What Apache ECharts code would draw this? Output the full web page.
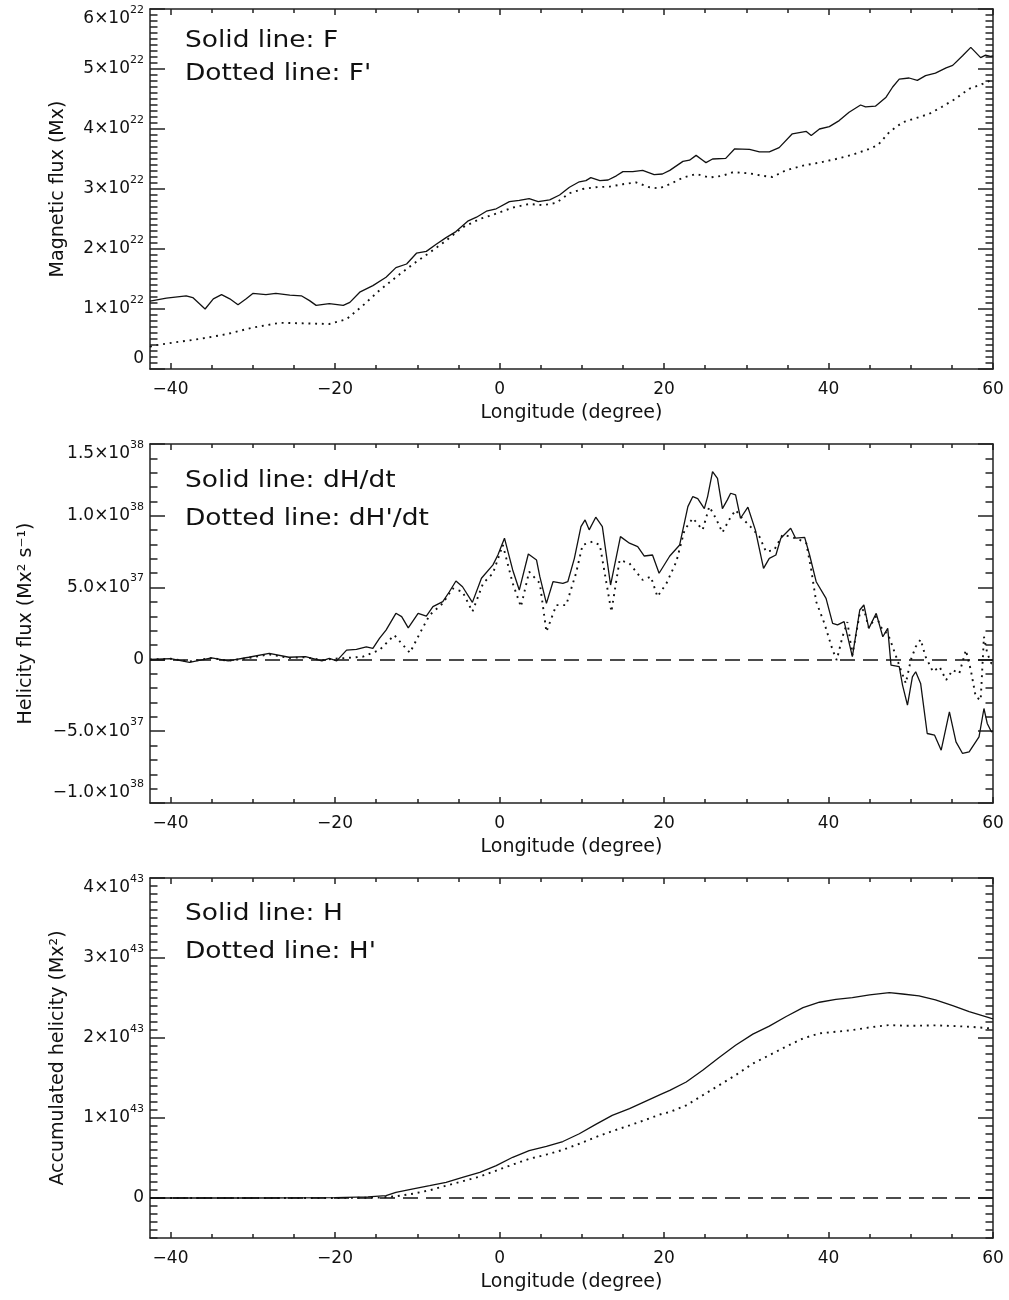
<!DOCTYPE html>
<html>
<head>
<meta charset="utf-8">
<script src="https://cdn.jsdelivr.net/npm/echarts@6/dist/echarts.min.js"></script>
<style>
  html, body { margin: 0; padding: 0; background: #ffffff; }
  #main { width: 1009px; height: 1300px; }
</style>
</head>
<body>
<div id="main"></div>
<script>
// ---- longitude axis ----
const LON_MIN = -42.5;
const LON_MAX = 60;
const lonTicks = [-40, -20, 0, 20, 40, 60];
const lonMinorTicks = [-35, -30, -25, -15, -10, -5, 5, 10, 15, 25, 30, 35, 45, 50, 55];

// ---- panel 1: magnetic flux, values in units of 1e22 Mx ----
const FLUX_UNIT = 1e22;
const fluxTicks = [0, 1, 2, 3, 4, 5, 6];
const fluxSolid = [[-42.5,1.13],[-42.3,1.14],[-40.5,1.18],[-38.1,1.22],[-37.3,1.19],[-35.8,1.00],[-34.8,1.17],[-33.8,1.24],[-32.8,1.17],[-31.8,1.07],[-30.8,1.17],[-30.0,1.26],[-28.4,1.24],[-27.2,1.26],[-25.5,1.23],[-24.1,1.22],[-23.1,1.14],[-22.3,1.06],[-20.7,1.09],[-19.0,1.06],[-18.2,1.11],[-17.0,1.28],[-15.4,1.39],[-13.8,1.53],[-12.6,1.69],[-11.3,1.75],[-10.1,1.93],[-8.9,1.96],[-7.7,2.08],[-6.5,2.19],[-5.3,2.29],[-3.8,2.47],[-2.8,2.53],[-1.6,2.63],[-0.4,2.67],[1.2,2.79],[2.4,2.81],[3.6,2.84],[4.7,2.79],[6.1,2.82],[7.3,2.90],[8.5,3.03],[9.7,3.12],[10.5,3.14],[11.1,3.19],[12.2,3.14],[13.2,3.15],[14.2,3.22],[15.0,3.29],[16.2,3.29],[17.4,3.31],[18.8,3.24],[19.8,3.25],[20.7,3.31],[22.3,3.46],[23.1,3.48],[23.9,3.56],[24.7,3.48],[25.1,3.44],[25.9,3.50],[27.5,3.51],[28.6,3.67],[30.4,3.66],[31.6,3.62],[32.8,3.62],[34.0,3.69],[35.6,3.92],[37.3,3.96],[37.9,3.89],[38.9,4.00],[40.1,4.04],[41.3,4.14],[42.5,4.28],[43.9,4.40],[44.5,4.37],[45.7,4.38],[47.0,4.53],[47.8,4.70],[48.6,4.83],[49.8,4.85],[50.8,4.81],[51.8,4.89],[53.0,4.93],[54.3,5.02],[55.1,5.06],[56.3,5.22],[57.3,5.36],[58.5,5.19],[59.1,5.23],[59.7,5.21],[60.0,5.22]];
const fluxDotted = [[-42.5,0.37],[-42.1,0.39],[-39.7,0.44],[-36.5,0.50],[-33.2,0.58],[-30.0,0.69],[-26.7,0.77],[-23.5,0.76],[-20.7,0.75],[-18.6,0.83],[-16.6,1.06],[-14.6,1.31],[-12.6,1.53],[-10.5,1.75],[-8.5,1.94],[-6.5,2.14],[-4.5,2.36],[-2.4,2.50],[-0.4,2.59],[1.6,2.69],[3.6,2.75],[5.3,2.73],[6.9,2.77],[8.5,2.93],[10.1,3.00],[11.7,3.03],[13.4,3.04],[15.0,3.08],[16.6,3.11],[18.2,3.03],[19.4,3.01],[20.7,3.08],[22.3,3.19],[23.9,3.25],[25.5,3.19],[27.1,3.22],[28.4,3.28],[30.4,3.26],[32.0,3.22],[33.2,3.20],[34.8,3.31],[36.9,3.39],[38.9,3.44],[40.9,3.50],[42.9,3.57],[45.0,3.67],[46.0,3.73],[47.4,3.95],[49.0,4.11],[50.6,4.18],[52.2,4.25],[53.8,4.37],[55.4,4.50],[57.1,4.67],[58.7,4.75],[60.0,4.83]];

// ---- panel 2: helicity flux, values in units of 1e37 Mx^2 s^-1 ----
const HF_UNIT = 1e37;
const hfTicks = [-10, -5, 0, 5, 10, 15];
const hfSolid = [[-42.5,0.0],[-40.0,0.05],[-37.7,-0.2],[-35.0,0.1],[-33.0,-0.1],[-30.5,0.15],[-28.0,0.42],[-25.6,0.15],[-23.6,0.2],[-21.6,-0.1],[-20.7,0.07],[-19.8,-0.1],[-18.6,0.65],[-17.4,0.70],[-16.2,0.88],[-15.4,0.77],[-14.6,1.46],[-13.8,2.04],[-12.6,3.21],[-11.9,2.98],[-11.1,2.20],[-9.9,3.21],[-8.9,3.02],[-8.1,3.67],[-6.9,4.02],[-6.1,4.71],[-5.3,5.46],[-4.5,5.06],[-3.3,3.97],[-2.2,5.65],[-0.8,6.58],[-0.2,7.27],[0.6,8.44],[1.6,6.23],[2.4,4.83],[3.5,7.34],[4.5,6.92],[4.9,5.76],[5.7,3.90],[6.5,5.41],[7.7,5.30],[8.3,5.41],[9.1,7.04],[9.9,9.25],[10.4,9.71],[10.9,9.02],[11.7,9.90],[12.5,9.25],[13.5,5.18],[14.7,8.55],[15.8,8.09],[16.8,7.86],[17.6,7.20],[18.6,7.27],[19.4,6.00],[20.7,7.20],[21.9,7.97],[22.9,10.64],[23.5,11.34],[24.1,11.20],[24.9,10.50],[25.3,11.34],[25.9,13.08],[26.5,12.60],[27.1,10.50],[27.7,11.11],[28.1,11.57],[28.7,11.45],[29.3,9.83],[30.2,10.60],[31.1,9.02],[32.1,6.34],[32.8,7.04],[33.6,7.27],[34.2,8.44],[35.4,9.13],[36.0,8.44],[37.1,8.50],[37.7,7.27],[38.5,5.41],[39.7,4.25],[40.5,2.51],[41.1,2.40],[41.9,2.63],[42.9,0.19],[43.8,3.44],[44.3,3.79],[44.9,2.16],[45.8,3.21],[46.6,1.58],[47.2,2.16],[47.6,-0.40],[48.6,-0.51],[49.0,-1.79],[49.6,-3.19],[50.2,-1.21],[50.6,-0.86],[51.2,-1.67],[52.0,-5.16],[52.9,-5.28],[53.7,-6.32],[54.7,-3.65],[55.5,-5.74],[56.3,-6.55],[57.1,-6.44],[58.3,-5.40],[58.9,-3.42],[59.3,-4.46],[59.8,-5.04],[60.0,-5.00]];
const hfDotted = [[-42.5,0.0],[-40.0,0.05],[-37.7,-0.15],[-35.0,0.1],[-33.0,-0.1],[-30.5,0.1],[-28.0,0.35],[-25.6,0.1],[-23.6,0.15],[-21.6,-0.05],[-20.0,0.05],[-18.6,0.1],[-16.6,0.19],[-14.6,0.65],[-12.8,1.69],[-10.9,0.46],[-9.7,1.81],[-8.5,3.09],[-6.9,3.90],[-5.7,4.95],[-4.5,4.71],[-3.3,3.32],[-2.0,5.30],[-0.8,6.00],[0.4,7.97],[1.6,5.30],[2.6,3.67],[3.6,6.11],[4.9,5.30],[5.7,1.92],[6.9,3.78],[8.1,3.78],[9.3,6.00],[10.1,7.97],[11.3,8.20],[12.2,7.97],[13.6,3.32],[14.6,6.92],[15.8,6.69],[17.4,5.53],[18.4,5.76],[19.2,4.37],[20.3,5.30],[21.5,6.81],[22.5,9.02],[23.5,9.83],[24.7,9.02],[25.5,10.64],[26.3,9.83],[27.1,8.83],[27.9,9.71],[28.7,10.40],[29.5,9.83],[30.5,9.25],[31.6,8.55],[32.4,7.50],[33.4,7.62],[34.4,8.67],[35.4,8.55],[36.5,8.32],[37.3,8.09],[37.9,6.23],[38.5,4.02],[39.5,2.51],[40.5,0.65],[41.0,-0.05],[41.7,1.58],[42.3,2.60],[42.9,0.30],[43.8,3.20],[44.3,3.50],[44.9,2.20],[45.8,3.00],[46.6,2.00],[47.2,1.80],[47.8,0.88],[48.8,-0.74],[49.4,-1.67],[50.0,-0.05],[50.6,0.88],[51.2,1.39],[51.8,0.19],[52.7,-0.86],[53.5,-0.51],[54.3,-1.44],[55.1,-0.74],[55.9,-0.98],[56.7,0.65],[57.3,-0.74],[57.9,-2.60],[58.5,-2.84],[58.9,1.58],[59.3,0.42],[59.8,-0.28],[60.0,-0.30]];

// ---- panel 3: accumulated helicity, values in units of 1e42 Mx^2 ----
const AH_UNIT = 1e42;
const ahTicks = [0, 10, 20, 30, 40];
const ahSolid = [[-42.5,0.0],[-30.0,0.0],[-20.0,0.05],[-16.0,0.15],[-13.8,0.29],[-12.6,0.70],[-10.5,1.13],[-8.5,1.54],[-6.5,1.96],[-4.5,2.58],[-2.4,3.21],[-0.4,4.05],[1.6,5.09],[3.6,5.93],[5.7,6.44],[7.7,7.06],[9.7,8.03],[11.7,9.20],[13.7,10.33],[15.8,11.17],[17.8,12.12],[19.8,13.05],[20.7,13.46],[22.7,14.50],[24.7,15.97],[26.7,17.57],[28.7,19.10],[30.8,20.49],[32.8,21.49],[34.8,22.66],[36.9,23.79],[38.9,24.47],[40.9,24.84],[42.9,25.04],[45.0,25.38],[47.4,25.67],[49.0,25.50],[51.0,25.26],[53.0,24.76],[55.1,24.04],[57.1,23.29],[59.8,22.46],[60.0,22.40]];
const ahDotted = [[-42.5,0.0],[-20.0,0.0],[-14.6,0.05],[-12.6,0.21],[-10.5,0.54],[-8.5,0.96],[-6.5,1.54],[-4.5,2.09],[-2.4,2.68],[-0.4,3.43],[1.6,4.18],[3.6,4.89],[5.7,5.43],[7.7,6.02],[9.7,6.78],[11.7,7.61],[13.7,8.36],[15.8,9.07],[17.8,9.79],[19.8,10.54],[20.7,10.74],[22.7,11.58],[24.7,12.84],[26.7,14.09],[28.7,15.35],[30.8,16.81],[32.8,17.85],[34.8,18.90],[36.9,19.95],[38.9,20.58],[40.9,20.78],[42.9,20.99],[45.0,21.33],[47.4,21.62],[49.0,21.54],[51.0,21.54],[53.0,21.58],[55.1,21.50],[57.1,21.41],[59.8,21.20],[60.0,21.18]];

// ---- styling ----
const FONT = 'DejaVu Sans';
const INK = '#111111';
const FRAME = { color: '#222222', width: 1.5 };
const GRID_LEFT = 150;
const GRID_WIDTH = 843;

const panels = [
  { top: 9, height: 360, unit: FLUX_UNIT, ticks: fluxTicks, minorStep: 0.1, digits: 0,
    yName: 'Magnetic flux (Mx)', nameGap: 82, minAlign: 'bottom',
    solid: fluxSolid, dotted: fluxDotted, zeroLine: false,
    notes: [['Solid line: F', 41], ["Dotted line: F'", 74]] },
  { top: 444, height: 359, unit: HF_UNIT, ticks: hfTicks, minorStep: 1, digits: 1,
    yName: 'Helicity flux (Mx\u00b2 s\u207b\u00b9)', nameGap: 114, minAlign: 'bottom',
    solid: hfSolid, dotted: hfDotted, zeroLine: true,
    notes: [['Solid line: dH/dt', 481], ["Dotted line: dH'/dt", 519]] },
  { top: 878, height: 360, unit: AH_UNIT, ticks: ahTicks, minorStep: 1, digits: 0,
    yName: 'Accumulated helicity (Mx\u00b2)', nameGap: 82, minAlign: null,
    solid: ahSolid, dotted: ahDotted, zeroLine: true, yMinExtra: -5,
    notes: [['Solid line: H', 914], ["Dotted line: H'", 952]] }
];

// "m×10^e" tick labels: mantissa part and a raised exponent
function sciFormatter(unit, digits) {
  return function (v) {
    if (Math.abs(v) < unit * 1e-6) return '{m|0}';
    const e = Math.floor(Math.log10(Math.abs(v)) + 1e-9);
    const m = v / Math.pow(10, e);
    const txt = (m < 0 ? '\u2212' : '') + Math.abs(m).toFixed(digits) + '\u00d710';
    return '{m|' + txt + '}{s|' + e + '}';
  };
}

const RICH = {
  m: { fontFamily: FONT, fontSize: 17, color: INK, lineHeight: 20 },
  s: { fontFamily: FONT, fontSize: 11, color: INK, lineHeight: 2, height: 2, verticalAlign: 'top' }
};

function minorValues(lo, hi, step, majorEvery) {
  const out = [];
  const k0 = Math.round(lo / step), k1 = Math.round(hi / step);
  for (let k = k0; k <= k1; k++) {
    if (k % majorEvery !== 0) out.push(k * step);
  }
  return out;
}

const grids = [], xAxes = [], yAxes = [], series = [], graphics = [];

panels.forEach(function (p, g) {
  const u = p.unit;
  const majors = p.ticks.map(function (t) { return t * u; });
  const majorStep = p.ticks[1] - p.ticks[0];
  const yMin = (p.yMinExtra !== undefined ? p.yMinExtra : p.ticks[0]) * u;
  const yMax = p.ticks[p.ticks.length - 1] * u;
  const minors = minorValues(yMin / u, yMax / u, p.minorStep, Math.round(majorStep / p.minorStep))
    .map(function (t) { return t * u; });

  grids.push({ left: GRID_LEFT, top: p.top, width: GRID_WIDTH, height: p.height, containLabel: false });

  const xBase = { type: 'value', gridIndex: g, min: LON_MIN, max: LON_MAX, splitLine: { show: false } };
  // bottom axis with labels
  xAxes.push(Object.assign({}, xBase, {
    position: 'bottom',
    name: 'Longitude (degree)', nameLocation: 'middle', nameGap: 35,
    nameTextStyle: { fontFamily: FONT, fontSize: 19, color: INK },
    axisLine: { show: true, onZero: false, lineStyle: FRAME },
    axisTick: { show: true, inside: true, length: 6, customValues: lonTicks, lineStyle: FRAME },
    axisLabel: { show: true, margin: 12, customValues: lonTicks, fontFamily: FONT, fontSize: 17, color: INK,
      formatter: function (v) { return v < 0 ? '\u2212' + (-v) : String(v); } }
  }));
  // top frame
  xAxes.push(Object.assign({}, xBase, {
    position: 'top',
    axisLine: { show: true, onZero: false, lineStyle: FRAME },
    axisTick: { show: true, inside: true, length: 6, customValues: lonTicks, lineStyle: FRAME },
    axisLabel: { show: false }
  }));
  // minor ticks bottom / top
  ['bottom', 'top'].forEach(function (pos) {
    xAxes.push(Object.assign({}, xBase, {
      position: pos,
      axisLine: { show: false, onZero: false },
      axisTick: { show: true, inside: true, length: 4, customValues: lonMinorTicks, lineStyle: FRAME },
      axisLabel: { show: false }
    }));
  });

  const yBase = { type: 'value', gridIndex: g, min: yMin, max: yMax, splitLine: { show: false } };
  yAxes.push(Object.assign({}, yBase, {
    position: 'left',
    name: p.yName, nameLocation: 'middle', nameGap: p.nameGap,
    nameTextStyle: { fontFamily: FONT, fontSize: 19, color: INK },
    axisLine: { show: true, onZero: false, lineStyle: FRAME },
    axisTick: { show: true, inside: true, length: 15, customValues: majors, lineStyle: FRAME },
    axisLabel: { show: true, margin: 6, customValues: majors, formatter: sciFormatter(u, p.digits), rich: RICH,
      verticalAlignMaxLabel: 'top', verticalAlignMinLabel: p.minAlign || undefined }
  }));
  yAxes.push(Object.assign({}, yBase, {
    position: 'right',
    axisLine: { show: true, onZero: false, lineStyle: FRAME },
    axisTick: { show: true, inside: true, length: 15, customValues: majors, lineStyle: FRAME },
    axisLabel: { show: false }
  }));
  ['left', 'right'].forEach(function (pos) {
    yAxes.push(Object.assign({}, yBase, {
      position: pos,
      axisLine: { show: false, onZero: false },
      axisTick: { show: true, inside: true, length: 7.5, customValues: minors, lineStyle: FRAME },
      axisLabel: { show: false }
    }));
  });

  const toData = function (arr) { return arr.map(function (d) { return [d[0], d[1] * u]; }); };

  const solidSeries = {
    type: 'line', xAxisIndex: 4 * g, yAxisIndex: 4 * g,
    data: toData(p.solid), showSymbol: false, symbol: 'none', silent: true,
    lineStyle: { color: INK, width: 1.3 }, z: 4, clip: true
  };
  if (p.zeroLine) {
    solidSeries.markLine = {
      silent: true, symbol: ['none', 'none'], label: { show: false },
      lineStyle: { color: INK, width: 1.5, type: [15, 8] },
      emphasis: { disabled: true },
      data: [{ yAxis: 0 }]
    };
  }
  series.push(solidSeries);
  series.push({
    type: 'line', xAxisIndex: 4 * g, yAxisIndex: 4 * g,
    data: toData(p.dotted), showSymbol: false, symbol: 'none', silent: true,
    lineStyle: { color: INK, width: 1.9, type: [1.9, 4.8] }, z: 3, clip: true
  });

  p.notes.forEach(function (n) {
    graphics.push({
      type: 'text', x: 185, y: n[1], scaleX: 1.15, silent: true,
      style: { text: n[0], fontFamily: FONT, fontSize: 23, fill: INK, verticalAlign: 'middle', align: 'left' }
    });
  });
});

const chart = echarts.init(document.getElementById('main'), null, { renderer: 'canvas' });
chart.setOption({
  animation: false,
  backgroundColor: '#ffffff',
  grid: grids,
  xAxis: xAxes,
  yAxis: yAxes,
  series: series,
  graphic: graphics
});
</script>
</body>
</html>
